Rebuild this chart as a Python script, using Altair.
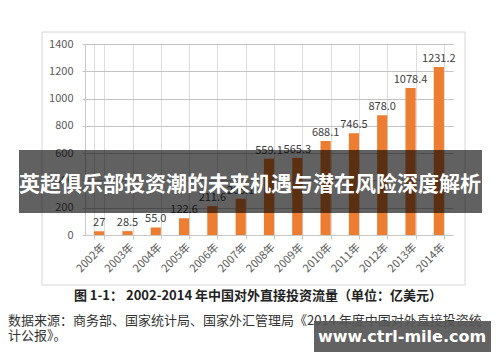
import altair as alt
import pandas as pd

years = ["2002年", "2003年", "2004年", "2005年", "2006年", "2007年", "2008年",
         "2009年", "2010年", "2011年", "2012年", "2013年", "2014年"]
values = [27.0, 28.5, 55.0, 122.6, 211.6, 265.1, 559.1, 565.3, 688.1, 746.5, 878.0, 1078.4, 1231.2]
value_labels = ["27", "28.5", "55.0", "122.6", "211.6", "265.1", "559.1", "565.3",
                "688.1", "746.5", "878.0", "1078.4", "1231.2"]
y_ticks = [0, 200, 400, 600, 800, 1000, 1200, 1400]

banner_title = "英超俱乐部投资潮的未来机遇与潜在风险深度解析"
caption = "图 1-1：  2002-2014 年中国对外直接投资流量（单位：亿美元）"
source_line1 = "数据来源：商务部、国家统计局、国家外汇管理局《2014 年度中国对外直接投资统"
source_line2 = "计公报》。"
watermark = "www.ctrl-mile.com"

df = pd.DataFrame({"year": years, "value": values, "label": value_labels})
one = pd.DataFrame({"a": [0]})
CJK = "Noto Sans CJK SC"

xenc = alt.X("year:N", sort=years, title=None,
             scale=alt.Scale(paddingInner=0.64, paddingOuter=0.32),
             axis=alt.Axis(labelAngle=-45, labelFont=CJK, labelFontSize=11,
                           labelColor="#595959", domainColor="#c8c8c8",
                           tickColor="#c8c8c8", tickBand="extent", tickSize=4,
                           labelPadding=2, labelOverlap=False))
yenc = alt.Y("value:Q", title=None,
             scale=alt.Scale(domain=[0, 1400], nice=False),
             axis=alt.Axis(values=y_ticks, format="d", labelOverlap=False,
                           labelFont=CJK, labelFontSize=11,
                           labelColor="#595959", grid=True, gridColor="#c4c4c4",
                           gridWidth=1, domainColor="#c8c8c8", tickColor="#c4c4c4",
                           tickSize=3, labelPadding=9))

frame = alt.Chart(one).mark_rect(fillOpacity=0, stroke="#d6d6d6", strokeWidth=1).encode(
    x=alt.value(-43), x2=alt.value(380), y=alt.value(-12), y2=alt.value(241))

bars = alt.Chart(df).mark_bar(color="#ED7D31").encode(x=xenc, y=yenc)

labels = alt.Chart(df).mark_text(baseline="bottom", dy=-3, font=CJK, fontSize=11,
                                 color="#404040").encode(
    x=xenc, y=yenc, text="label:N")

banner = alt.Chart(one).mark_rect(fill="#000000", opacity=0.62).encode(
    x=alt.value(-66), x2=alt.value(397), y=alt.value(106), y2=alt.value(169))

banner_text = alt.Chart(one).mark_text(font=CJK, fontSize=21, fontWeight="bold",
                                       color="white", align="center",
                                       baseline="middle").encode(
    x=alt.value(165), y=alt.value(141), text=alt.value(banner_title))

cap = alt.Chart(one).mark_text(font=CJK, fontSize=13, fontWeight="bold",
                               color="#222222", align="center",
                               baseline="middle").encode(
    x=alt.value(173), y=alt.value(252), text=alt.value(caption))

src1 = alt.Chart(one).mark_text(font=CJK, fontSize=13, color="#333333",
                                align="left", baseline="middle").encode(
    x=alt.value(-77), y=alt.value(277), text=alt.value(source_line1))
src2 = alt.Chart(one).mark_text(font=CJK, fontSize=13, color="#333333",
                                align="left", baseline="middle").encode(
    x=alt.value(-77), y=alt.value(292), text=alt.value(source_line2))

wm_box = alt.Chart(one).mark_rect(fill="#555555", opacity=0.92).encode(
    x=alt.value(229), x2=alt.value(406), y=alt.value(277), y2=alt.value(308))
wm_text = alt.Chart(one).mark_text(font="DejaVu Sans", fontSize=16, fontWeight="bold",
                                   color="white", align="center",
                                   baseline="middle").encode(
    x=alt.value(317), y=alt.value(293), text=alt.value(watermark))

chart = alt.layer(frame, bars, labels, banner, banner_text, cap, src1, src2,
                  wm_box, wm_text).properties(
    width=368, height=191,
    autosize=alt.AutoSizeParams(type="none"),
    padding={"left": 77, "top": 36, "right": 39, "bottom": 119},
    background="white",
).configure_view(stroke=None).configure_axis(grid=True)

chart.save("out.html", embed_options={"renderer": "svg", "actions": False})
